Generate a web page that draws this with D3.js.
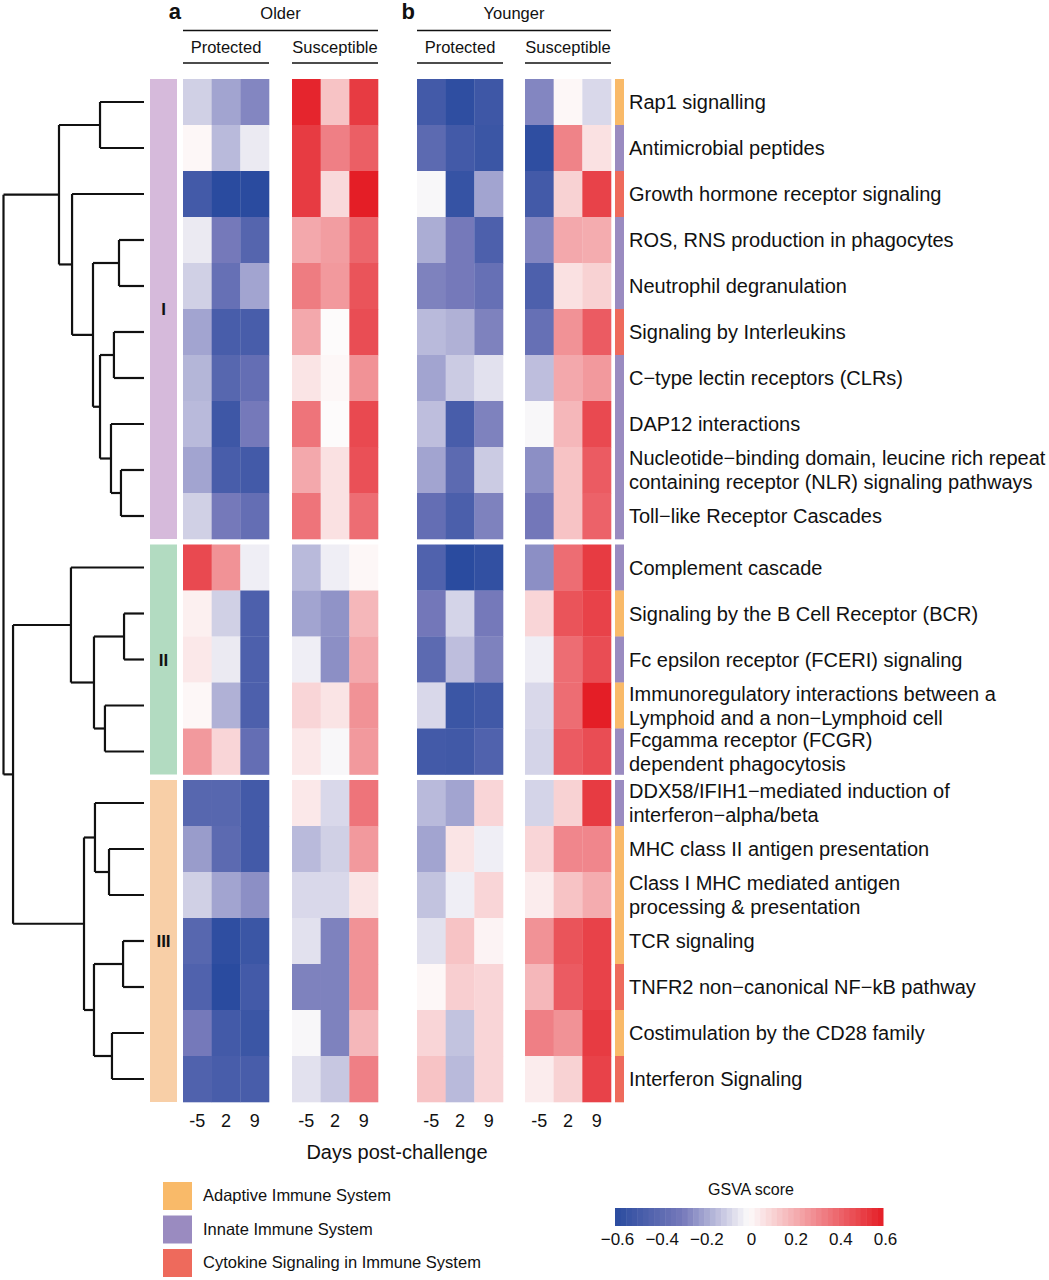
<!DOCTYPE html>
<html>
<head>
<meta charset="utf-8">
<script src="https://cdn.jsdelivr.net/npm/d3@7"></script>
<style>
  body { margin: 0; background: #fff; }
  text { font-family: "Liberation Sans", Arial, sans-serif; fill: #111; }
</style>
</head>
<body>
<div id="chart"></div>
<script>
// ---- data ----
var days = ["-5", "2", "9"];
var ages = ["Older", "Younger"];
var statuses = ["Protected", "Susceptible"];
var panelLetters = ["a", "b"];

var pathways = [
  "Rap1 signalling",
  "Antimicrobial peptides",
  "Growth hormone receptor signaling",
  "ROS, RNS production in phagocytes",
  "Neutrophil degranulation",
  "Signaling by Interleukins",
  "C\u2212type lectin receptors (CLRs)",
  "DAP12 interactions",
  "Nucleotide\u2212binding domain, leucine rich repeat\ncontaining receptor (NLR) signaling pathways",
  "Toll\u2212like Receptor Cascades",
  "Complement cascade",
  "Signaling by the B Cell Receptor (BCR)",
  "Fc epsilon receptor (FCERI) signaling",
  "Immunoregulatory interactions between a\nLymphoid and a non\u2212Lymphoid cell",
  "Fcgamma receptor (FCGR)\ndependent phagocytosis",
  "DDX58/IFIH1\u2212mediated induction of\ninterferon\u2212alpha/beta",
  "MHC class II antigen presentation",
  "Class I MHC mediated antigen\nprocessing & presentation",
  "TCR signaling",
  "TNFR2 non\u2212canonical NF\u2212kB pathway",
  "Costimulation by the CD28 family",
  "Interferon Signaling"
];

// A = Adaptive, N = Innate, C = Cytokine
var pathwayCategory = ["A","N","C","N","N","C","N","N","N","N",
                       "N","A","N","A","N",
                       "N","A","A","A","C","A","C"];

var categoryNames = ["Adaptive Immune System", "Innate Immune System", "Cytokine Signaling in Immune System"];
var categoryKeys = ["A", "N", "C"];

var clusters = ["I", "II", "III"];
var clusterSizes = [10, 5, 7];

// GSVA scores, rows follow pathways, columns follow days
var olderProtected = [
  [-0.10, -0.20, -0.27], [0.01, -0.15, -0.04], [-0.50, -0.60, -0.60], [-0.04, -0.30, -0.43],
  [-0.10, -0.36, -0.20], [-0.20, -0.48, -0.48], [-0.16, -0.42, -0.37], [-0.15, -0.52, -0.30],
  [-0.20, -0.48, -0.50], [-0.10, -0.30, -0.37],
  [0.48, 0.28, -0.03], [0.03, -0.10, -0.46], [0.05, -0.04, -0.46], [0.01, -0.17, -0.46],
  [0.26, 0.10, -0.37],
  [-0.42, -0.42, -0.50], [-0.22, -0.40, -0.50], [-0.10, -0.20, -0.25], [-0.42, -0.58, -0.53],
  [-0.45, -0.60, -0.50], [-0.30, -0.50, -0.53], [-0.45, -0.48, -0.48]
];
var olderSusceptible = [
  [0.58, 0.15, 0.52], [0.52, 0.33, 0.42], [0.52, 0.09, 0.60], [0.22, 0.25, 0.40],
  [0.34, 0.26, 0.45], [0.22, 0.00, 0.47], [0.06, 0.01, 0.28], [0.36, 0.00, 0.48],
  [0.22, 0.07, 0.46], [0.36, 0.07, 0.38],
  [-0.15, -0.03, 0.01], [-0.20, -0.24, 0.18], [-0.03, -0.25, 0.22], [0.10, 0.06, 0.28],
  [0.05, -0.01, 0.26],
  [0.05, -0.08, 0.36], [-0.15, -0.10, 0.26], [-0.08, -0.08, 0.06], [-0.06, -0.28, 0.28],
  [-0.28, -0.28, 0.28], [-0.01, -0.28, 0.18], [-0.06, -0.12, 0.33]
];
var youngerProtected = [
  [-0.50, -0.58, -0.52], [-0.40, -0.50, -0.53], [-0.01, -0.55, -0.20], [-0.18, -0.30, -0.46],
  [-0.28, -0.30, -0.36], [-0.15, -0.17, -0.28], [-0.20, -0.11, -0.06], [-0.14, -0.48, -0.28],
  [-0.20, -0.40, -0.11], [-0.37, -0.47, -0.28],
  [-0.45, -0.60, -0.57], [-0.31, -0.09, -0.30], [-0.40, -0.14, -0.28], [-0.08, -0.53, -0.51],
  [-0.50, -0.51, -0.45],
  [-0.15, -0.20, 0.10], [-0.20, 0.06, -0.03], [-0.13, -0.03, 0.10], [-0.06, 0.15, 0.02],
  [0.01, 0.12, 0.10], [0.10, -0.13, 0.10], [0.15, -0.15, 0.10]
];
var youngerSusceptible = [
  [-0.27, 0.01, -0.08], [-0.58, 0.32, 0.07], [-0.50, 0.11, 0.50], [-0.27, 0.22, 0.21],
  [-0.46, 0.07, 0.11], [-0.36, 0.28, 0.43], [-0.14, 0.22, 0.26], [-0.01, 0.18, 0.48],
  [-0.25, 0.15, 0.43], [-0.31, 0.15, 0.41],
  [-0.25, 0.38, 0.52], [0.10, 0.45, 0.50], [-0.03, 0.38, 0.47], [-0.08, 0.38, 0.60],
  [-0.09, 0.43, 0.47],
  [-0.09, 0.11, 0.52], [0.10, 0.31, 0.31], [0.04, 0.15, 0.21], [0.28, 0.45, 0.50],
  [0.18, 0.43, 0.50], [0.33, 0.28, 0.52], [0.04, 0.11, 0.50]
];

// row dendrogram, hclust style: negative = leaf (1-based), positive = earlier merge; third value = height
var dendroMerges = [
  [-1, -2, 3.13],
  [-4, -5, 1.78],
  [-6, -7, 2.14],
  [-9, -10, 1.64],
  [-8, 4, 2.35],
  [3, 5, 3.13],
  [2, 6, 3.63],
  [-3, 7, 5.12],
  [1, 8, 6.05],
  [-12, -13, 1.42],
  [-14, -15, 2.78],
  [10, 11, 3.56],
  [-11, 12, 5.2],
  [-17, -18, 2.49],
  [-16, 14, 3.49],
  [-19, -20, 1.49],
  [-21, -22, 2.28],
  [16, 17, 3.56],
  [15, 18, 4.27],
  [13, 19, 9.32],
  [9, 20, 10]
];

var scaleTicks = [-0.6, -0.4, -0.2, 0, 0.2, 0.4, 0.6];

// ---- layout ----
var width = 1049, height = 1280;
var rowH = 46, topY = 79, clusterGap = 5.5;
var blockW = 86;
var blockX = { "Older|Protected": 183, "Older|Susceptible": 292,
               "Younger|Protected": 417, "Younger|Susceptible": 525 };
var blockData = {
  "Older|Protected": olderProtected, "Older|Susceptible": olderSusceptible,
  "Younger|Protected": youngerProtected, "Younger|Susceptible": youngerSusceptible
};

var catColor = d3.scaleOrdinal().domain(categoryKeys).range(["#f9ba69", "#9a8bc0", "#ee6a5c"]);
var clusterColor = d3.scaleOrdinal().domain(clusters).range(["#d6badb", "#b2dbc1", "#f8cfa7"]);
var color = d3.scaleLinear()
    .domain([-0.6, -0.3, 0, 0.3, 0.6])
    .range(["#2a4b9f", "#7579ba", "#fdfbfb", "#f08a8f", "#e41e26"])
    .clamp(true);

// which cluster each row belongs to
var rowCluster = [];
clusterSizes.forEach(function(n, c) { for (var i = 0; i < n; i++) rowCluster.push(c); });

function rowTop(i) { return topY + i * rowH + rowCluster[i] * clusterGap; }
function rowMid(i) { return rowTop(i) + rowH / 2; }

var svg = d3.select("#chart").append("svg")
    .attr("width", width)
    .attr("height", height);

// ---- headers ----
ages.forEach(function(age, a) {
  var x0 = blockX[age + "|Protected"], x1 = blockX[age + "|Susceptible"] + blockW;
  svg.append("text").attr("x", x0 - 2).attr("y", 19)
      .attr("text-anchor", "end")
      .style("font-size", "22px").style("font-weight", "bold")
      .text(panelLetters[a]);
  svg.append("text").attr("x", (x0 + x1) / 2).attr("y", 19)
      .attr("text-anchor", "middle").style("font-size", "16.5px")
      .text(age);
  svg.append("line").attr("x1", x0).attr("x2", x1).attr("y1", 30.5).attr("y2", 30.5)
      .attr("stroke", "#111").attr("stroke-width", 1.5);
  statuses.forEach(function(st) {
    var bx = blockX[age + "|" + st];
    svg.append("text").attr("x", bx + blockW / 2).attr("y", 53)
        .attr("text-anchor", "middle").style("font-size", "16.5px")
        .text(st);
    svg.append("line").attr("x1", bx).attr("x2", bx + blockW).attr("y1", 63).attr("y2", 63)
        .attr("stroke", "#111").attr("stroke-width", 1.5);
  });
});

// ---- heatmap blocks ----
Object.keys(blockX).forEach(function(key) {
  var x = d3.scaleBand().domain(days).range([blockX[key], blockX[key] + blockW]);
  var g = svg.append("g");
  blockData[key].forEach(function(row, i) {
    g.selectAll(null).data(row).enter().append("rect")
        .attr("x", function(d, j) { return x(days[j]); })
        .attr("y", rowTop(i))
        .attr("width", x.bandwidth() + 0.3)
        .attr("height", rowH + 0.3)
        .attr("fill", function(d) { return color(d); });
  });
  var axis = d3.axisBottom(x).tickSize(0).tickPadding(0);
  svg.append("g")
      .attr("transform", "translate(0," + 1114 + ")")
      .call(axis)
      .call(function(s) { s.select(".domain").remove(); })
      .selectAll("text")
      .style("font-size", "18px")
      .style("font-family", "'Liberation Sans', Arial, sans-serif")
      .attr("fill", "#111");
});

svg.append("text").attr("x", 397).attr("y", 1159)
    .attr("text-anchor", "middle").style("font-size", "20px")
    .text("Days post-challenge");

// ---- cluster bar ----
clusters.forEach(function(c, k) {
  var first = d3.sum(clusterSizes.slice(0, k)), last = first + clusterSizes[k] - 1;
  var y0 = rowTop(first), y1 = rowTop(last) + rowH;
  svg.append("rect").attr("x", 150).attr("y", y0).attr("width", 27).attr("height", y1 - y0)
      .attr("fill", clusterColor(c));
  svg.append("text").attr("x", 163.5).attr("y", (y0 + y1) / 2 + 6)
      .attr("text-anchor", "middle").style("font-size", "17px").style("font-weight", "bold")
      .text(c);
});

// ---- category bar + labels ----
pathways.forEach(function(p, i) {
  svg.append("rect").attr("x", 615).attr("y", rowTop(i)).attr("width", 9).attr("height", rowH + 0.3)
      .attr("fill", catColor(pathwayCategory[i]));
  var lines = p.split("\n");
  var t = svg.append("text").attr("x", 629).style("font-size", "20px");
  lines.forEach(function(l, k) {
    t.append("tspan").attr("x", 629)
        .attr("y", rowMid(i) + 7 + (k - (lines.length - 1) / 2) * 24)
        .text(l);
  });
});

// ---- dendrogram ----
var nodes = dendroMerges.map(function(m) { return { h: m[2], children: [] }; });
function ref(v) { return v < 0 ? { leaf: -v - 1, h: 0 } : nodes[v - 1]; }
dendroMerges.forEach(function(m, k) { nodes[k].children = [ref(m[0]), ref(m[1])]; });
var root = d3.hierarchy(nodes[nodes.length - 1], function(d) { return d.children; });

var hx = d3.scaleLinear().domain([0, 10]).range([144, 3.5]);
root.eachAfter(function(n) {
  n.px = hx(n.data.h);
  n.py = n.children ? d3.mean(n.children, function(c) { return c.py; }) : rowMid(n.data.leaf);
});

var dendro = svg.append("g").attr("fill", "none").attr("stroke", "#111").attr("stroke-width", 2.2);
root.each(function(n) {
  if (!n.children) return;
  var ys = n.children.map(function(c) { return c.py; });
  dendro.append("path").attr("d", "M" + n.px + "," + d3.min(ys) + "V" + d3.max(ys));
  n.children.forEach(function(c) {
    dendro.append("path").attr("d", "M" + n.px + "," + c.py + "H" + c.px);
  });
});

// ---- category legend ----
categoryKeys.forEach(function(k, i) {
  var y = 1182 + i * 33.5;
  svg.append("rect").attr("x", 163).attr("y", y).attr("width", 29).attr("height", 28)
      .attr("fill", catColor(k));
  svg.append("text").attr("x", 203).attr("y", y + 19)
      .style("font-size", "16.5px").text(categoryNames[i]);
});

// ---- colour scale legend ----
var cx = d3.scaleLinear().domain([-0.6, 0.6]).range([617, 885]);
var steps = d3.range(-0.6, 0.6, 0.025);
svg.append("g").selectAll("rect").data(steps).enter().append("rect")
    .attr("x", function(d) { return cx(d) - 2; })
    .attr("y", 1208)
    .attr("width", cx(0.025) - cx(0) + 0.5)
    .attr("height", 18)
    .attr("fill", function(d) { return color(d + 0.0125); });
svg.append("text").attr("x", 751).attr("y", 1195)
    .attr("text-anchor", "middle").style("font-size", "16px").text("GSVA score");
svg.append("g")
    .attr("transform", "translate(0,1233)")
    .call(d3.axisBottom(cx).tickValues(scaleTicks).tickSize(0).tickPadding(0)
      .tickFormat(function(d) { return d === 0 ? "0" : d3.format(".1f")(d); }))
    .call(function(s) { s.select(".domain").remove(); })
    .selectAll("text")
    .style("font-size", "17px")
    .style("font-family", "'Liberation Sans', Arial, sans-serif")
    .attr("fill", "#111");
</script>
</body>
</html>
